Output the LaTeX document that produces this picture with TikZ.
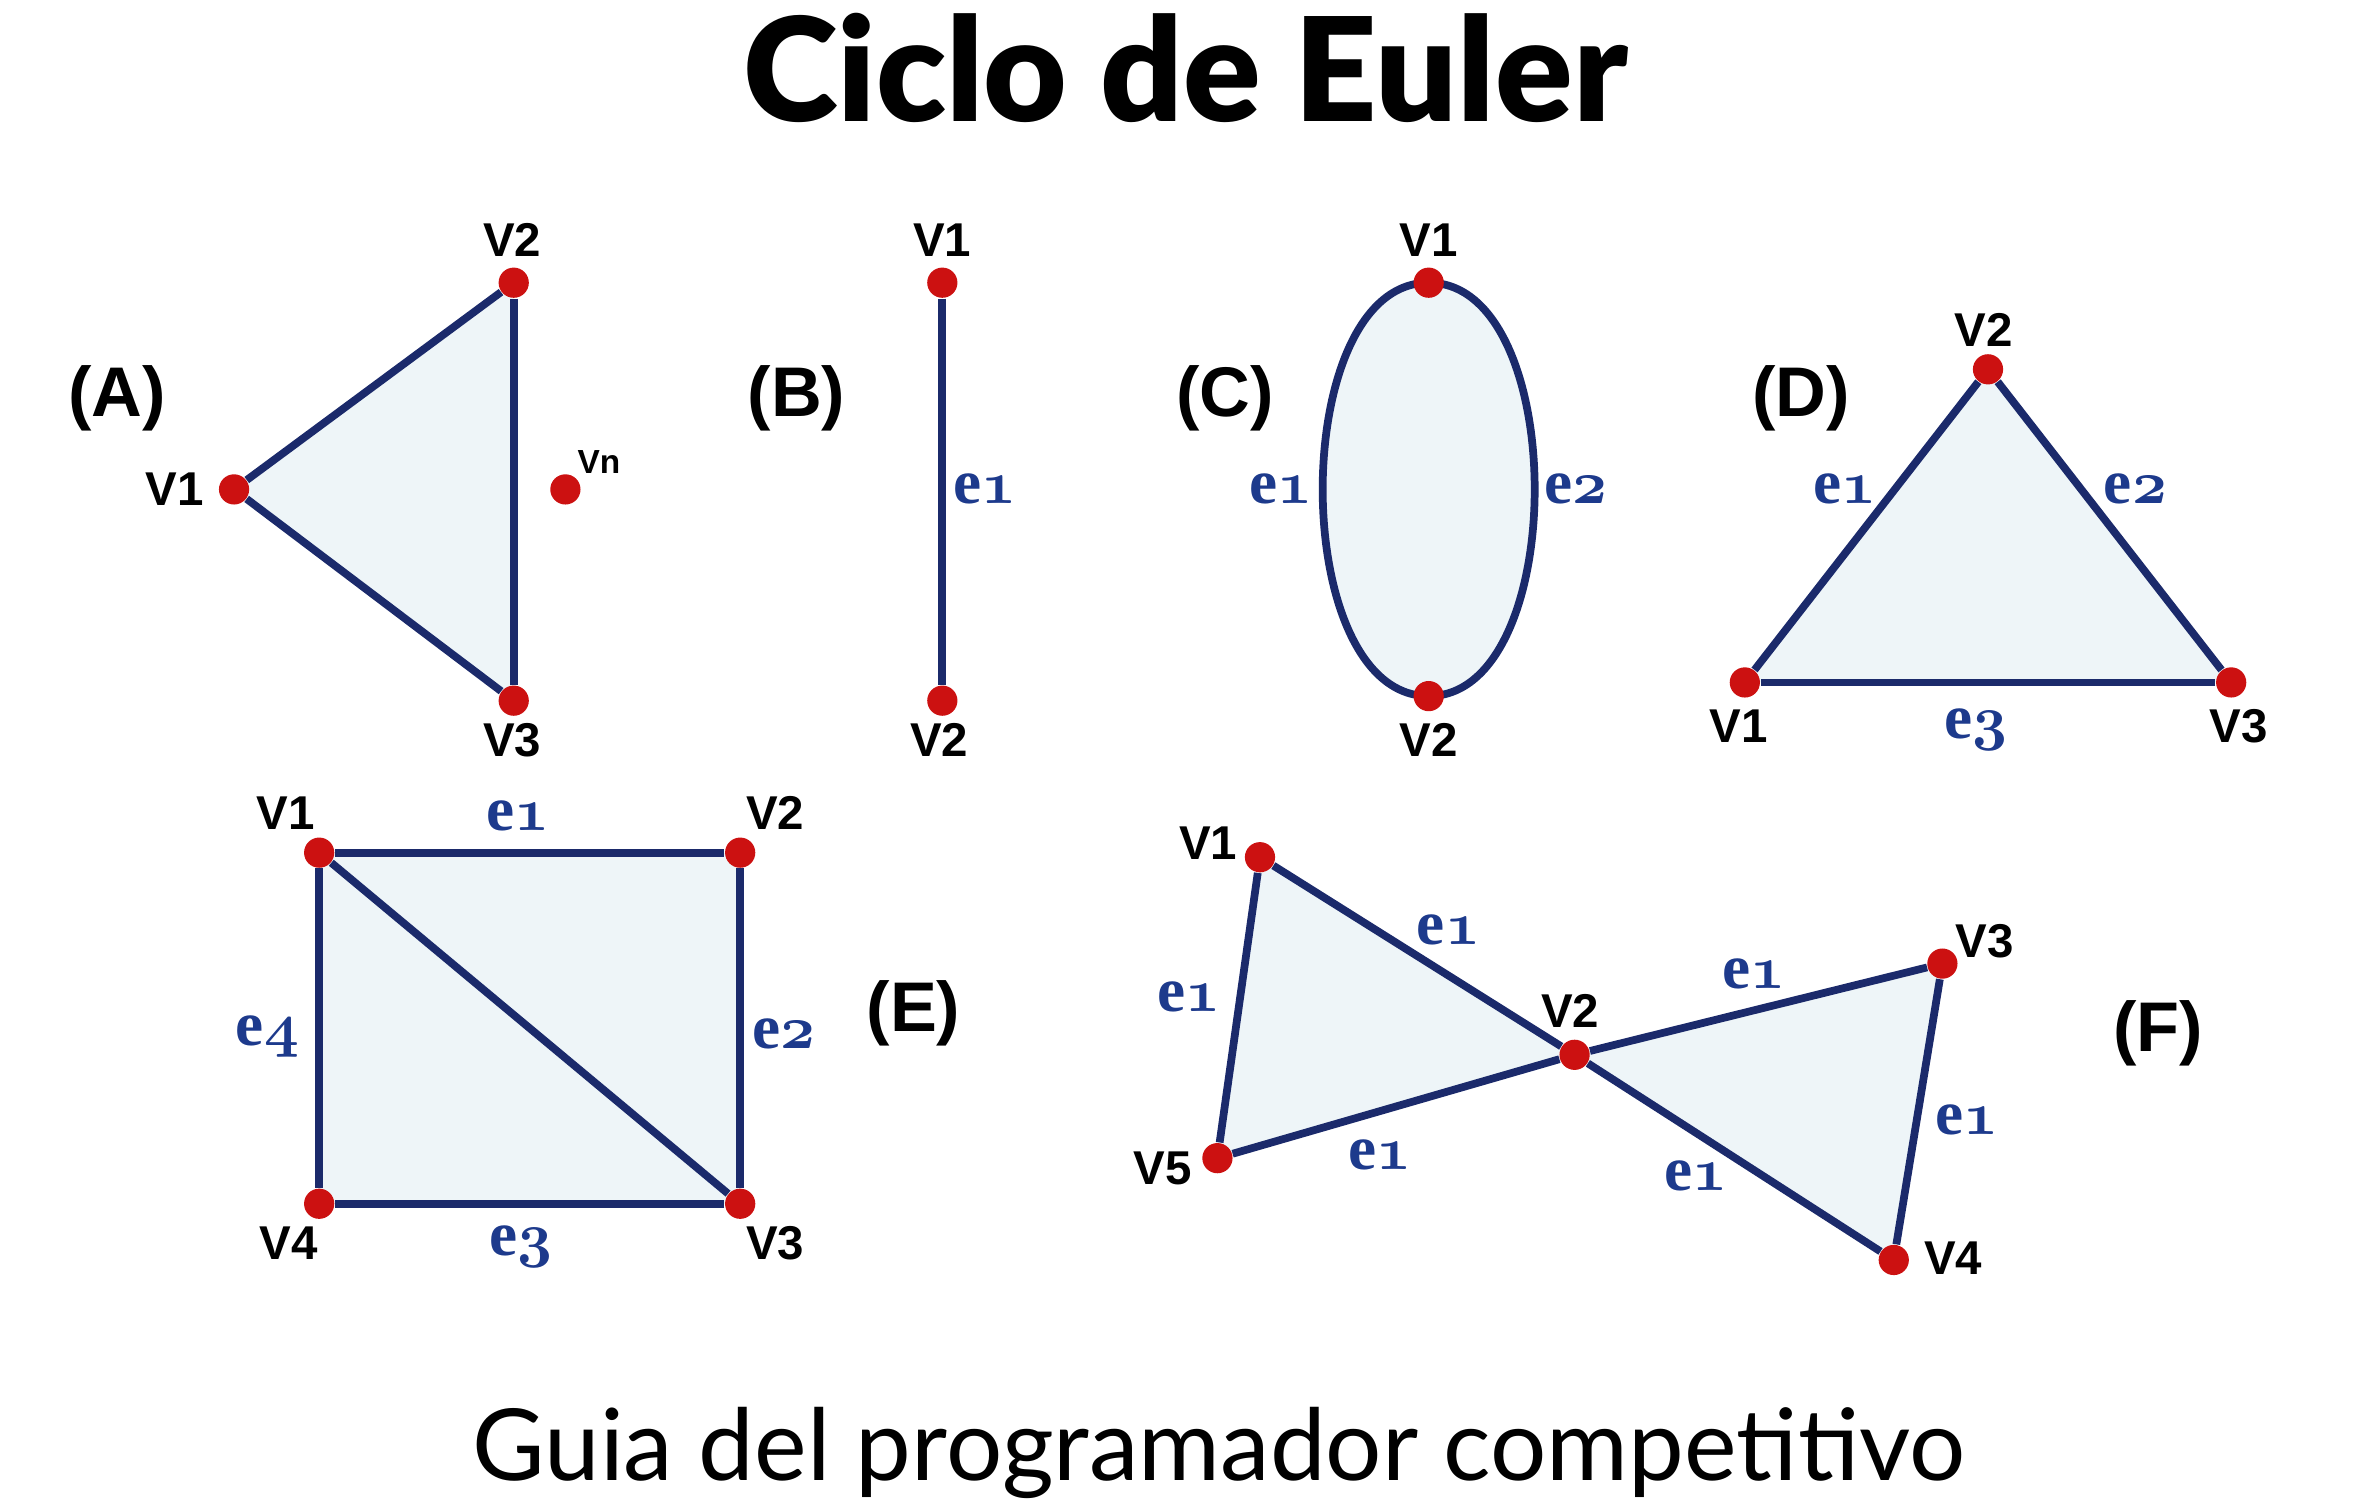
\documentclass[tikz,border=0pt]{standalone}
\usepackage{fontspec}
\usepackage{tikz}
\usetikzlibrary{calc,backgrounds}
\newfontfamily\latofont{Lato}
\IfFontExistsTF{Lato Black}{\newfontfamily\titlefont{Lato Black}}{\newcommand\titlefont{\latofont\bfseries}}
\newfontfamily\vfont{Liberation Sans}
\newfontfamily\efont{Liberation Serif}
\definecolor{navy}{HTML}{1B2A6B}
\definecolor{dotred}{HTML}{CC1111}
\definecolor{paleblue}{HTML}{EEF5F8}
\definecolor{eblue}{HTML}{1D3A8C}
\newcommand{\elab}[1]{{\efont\bfseries e}{\boldmath$\mathnormal{#1}$}}

\begin{document}
\begin{tikzpicture}[x=0.0152cm,y=-0.0152cm,
    vx/.style={fill=dotred,circle,inner sep=0pt,minimum size=8.6pt},
    ed/.style={draw=navy,line width=2.2pt},
    fc/.style={fill=paleblue},
    vl/.style={font=\vfont\bfseries\fontsize{13.5}{16}\selectfont},
    el/.style={text=eblue,font=\fontsize{18}{20}\selectfont},
    gl/.style={font=\vfont\bfseries\fontsize{20}{24}\selectfont}]
      \useasboundingbox (0,0) rectangle (1560,990);

      \node (title) at (780,80) [anchor=base,font=\titlefont\fontsize{41}{48}\selectfont] {Ciclo de Euler};
      \node (sub) at (802,974) [anchor=base,font=\latofont\fontsize{28.3}{34}\selectfont] {Guia del programador competitivo};

      \node (a1) at (154,322) [vx] {};
      \node (a2) at (338,186) [vx] {};
      \node (a3) at (338,461) [vx] {};
      \node (an) at (372,322) [vx] {};
      \begin{pgfonlayer}{background}
        \fill[fc] (a1.center) -- (a2.center) -- (a3.center) -- cycle;
        \path[ed] (a1) edge (a2) (a2) edge (a3) (a3) edge (a1);
      \end{pgfonlayer}
      \node (ga) at (77,262) [gl] {(A)};
      \node (la1) at (115,322) [vl] {V1};
      \node (la2) at (337,158) [vl] {V2};
      \node (la3) at (337,487) [vl] {V3};
      \node (lan) at (394,304) [font=\vfont\bfseries\fontsize{9.5}{11}\selectfont] {Vn};

      \node (b1) at (620,186) [vx] {};
      \node (b2) at (620,461) [vx] {};
      \begin{pgfonlayer}{background}
        \path[ed] (b1) edge (b2);
      \end{pgfonlayer}
      \node (gb) at (524,262) [gl] {(B)};
      \node (lb1) at (620,158) [vl] {V1};
      \node (lb2) at (618,487) [vl] {V2};
      \node (eb1) at (648,322) [el] {\elab{1}};

      \node (c1) at (940,186) [vx] {};
      \node (c2) at (940,458) [vx] {};
      \begin{pgfonlayer}{background}
        \fill[fc] (c1.center) .. controls (847,186) and (847,458) .. (c2.center)
          .. controls (1033,458) and (1033,186) .. (c1.center);
        \draw[ed] (c1.center) .. controls (847,186) and (847,458) .. (c2.center);
        \draw[ed] (c2.center) .. controls (1033,458) and (1033,186) .. (c1.center);
      \end{pgfonlayer}
      \node (gc) at (806,262) [gl] {(C)};
      \node (lc1) at (940,158) [vl] {V1};
      \node (lc2) at (940,487) [vl] {V2};
      \node (ec1) at (843,322) [el] {\elab{1}};
      \node (ec2) at (1037,322) [el] {\elab{2}};

      \node (d1) at (1148,449) [vx] {};
      \node (d2) at (1308,243) [vx] {};
      \node (d3) at (1468,449) [vx] {};
      \begin{pgfonlayer}{background}
        \fill[fc] (d1.center) -- (d2.center) -- (d3.center) -- cycle;
        \path[ed] (d1) edge (d2) (d2) edge (d3) (d3) edge (d1);
      \end{pgfonlayer}
      \node (gd) at (1185,262) [gl] {(D)};
      \node (ld1) at (1144,478) [vl] {V1};
      \node (ld2) at (1305,217) [vl] {V2};
      \node (ld3) at (1473,478) [vl] {V3};
      \node (ed1) at (1214,322) [el] {\elab{1}};
      \node (ed2) at (1405,322) [el] {\elab{2}};
      \node (ed3) at (1300,480) [el] {\elab{3}};

      \node (s1) at (210,561) [vx] {};
      \node (s2) at (487,561) [vx] {};
      \node (s3) at (487,792) [vx] {};
      \node (s4) at (210,792) [vx] {};
      \begin{pgfonlayer}{background}
        \fill[fc] (s1.center) -- (s2.center) -- (s3.center) -- (s4.center) -- cycle;
        \path[ed] (s1) edge (s2) (s2) edge (s3) (s3) edge (s4) (s4) edge (s1) (s1) edge (s3);
      \end{pgfonlayer}
      \node (gs) at (601,667) [gl] {(E)};
      \node (ls1) at (188,535) [vl] {V1};
      \node (ls2) at (510,535) [vl] {V2};
      \node (ls3) at (510,818) [vl] {V3};
      \node (ls4) at (190,818) [vl] {V4};
      \node (es1) at (341,537) [el] {\elab{1}};
      \node (es2) at (516,680) [el] {\elab{2}};
      \node (es3) at (343,820) [el] {\elab{3}};
      \node (es4) at (176,682) [el] {\elab{4}};

      \node (f1) at (829,564) [vx] {};
      \node (f2) at (1036,694) [vx] {};
      \node (f3) at (1278,634) [vx] {};
      \node (f4) at (1246,829) [vx] {};
      \node (f5) at (801,762) [vx] {};
      \begin{pgfonlayer}{background}
        \fill[fc] (f1.center) -- (f2.center) -- (f5.center) -- cycle
          (f2.center) -- (f3.center) -- (f4.center) -- cycle;
        \path[ed] (f1) edge (f2) (f2) edge (f3) (f3) edge (f4)
          (f4) edge (f2) (f2) edge (f5) (f5) edge (f1);
      \end{pgfonlayer}
      \node (gf) at (1420,680) [gl] {(F)};
      \node (lf1) at (795,555) [vl] {V1};
      \node (lf2) at (1033,665) [vl] {V2};
      \node (lf3) at (1306,619) [vl] {V3};
      \node (lf4) at (1285,828) [vl] {V4};
      \node (lf5) at (765,769) [vl] {V5};
      \node (ef1) at (953,612) [el] {\elab{1}};
      \node (ef2) at (1154,641) [el] {\elab{1}};
      \node (ef3) at (1294,737) [el] {\elab{1}};
      \node (ef4) at (1116,774) [el] {\elab{1}};
      \node (ef5) at (908,760) [el] {\elab{1}};
      \node (ef6) at (782,656) [el] {\elab{1}};

    \end{tikzpicture}
\end{document}
